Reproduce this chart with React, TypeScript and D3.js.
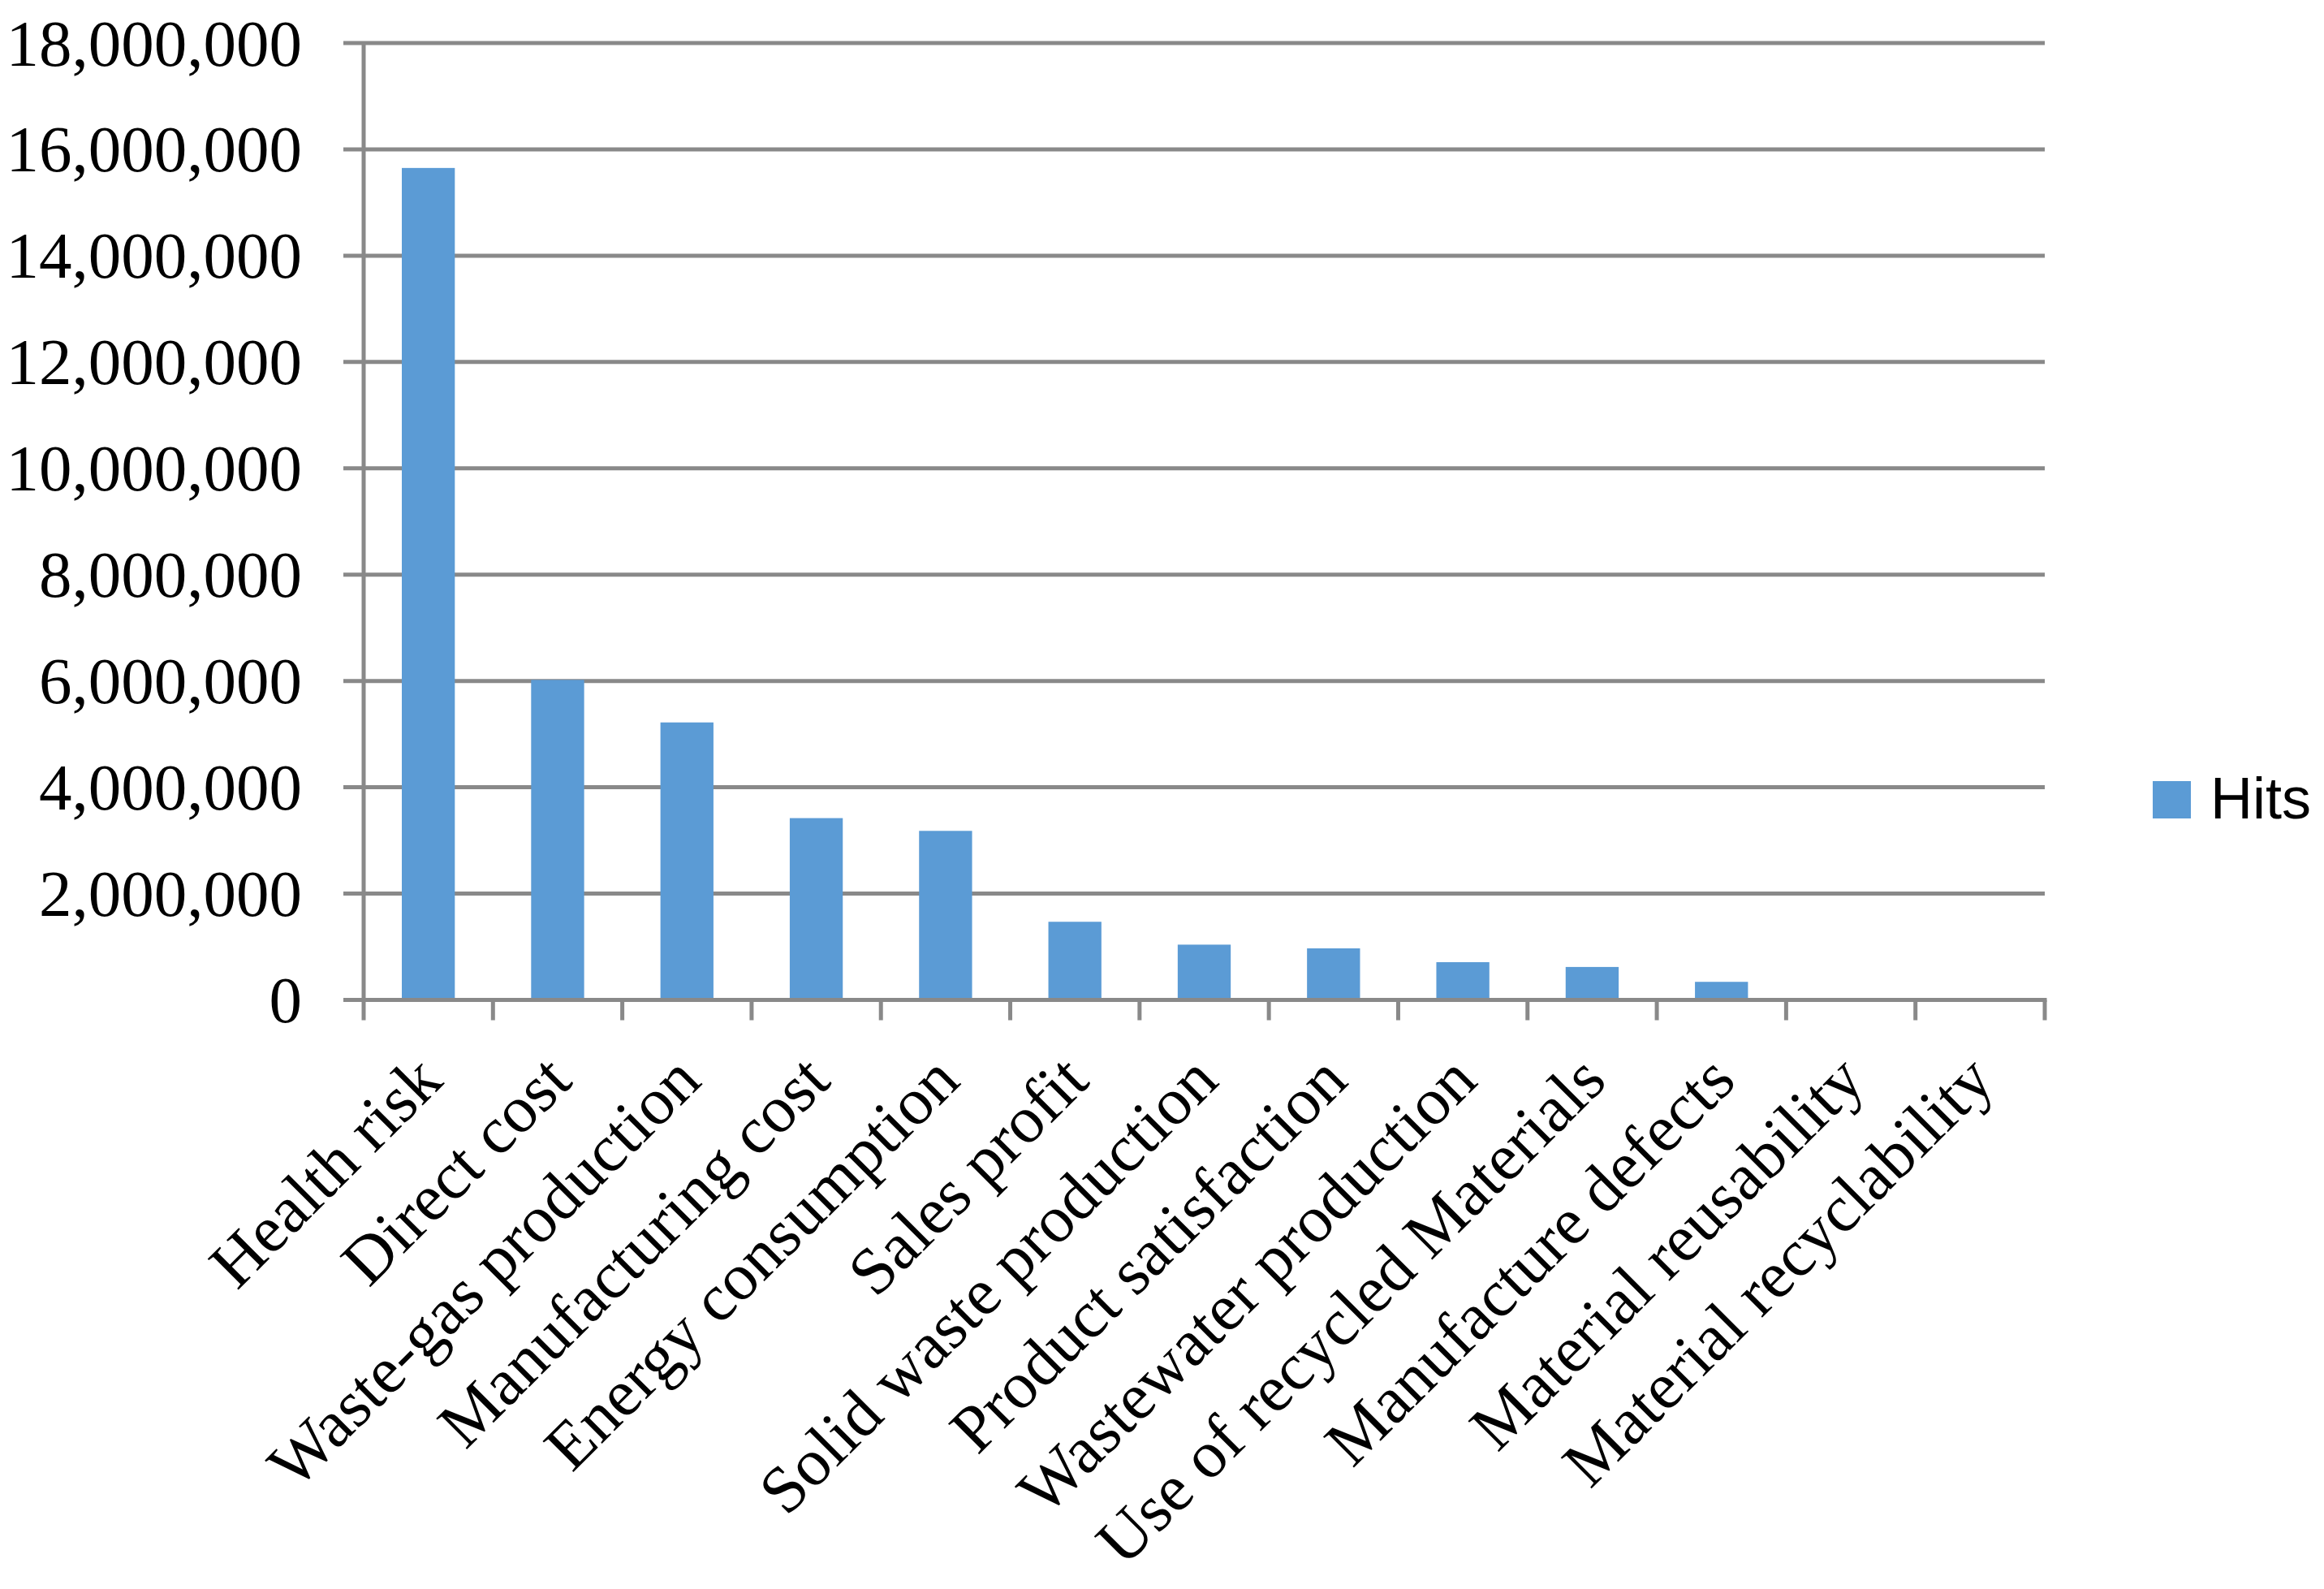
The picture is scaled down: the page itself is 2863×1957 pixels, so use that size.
import React, { useEffect, useRef } from 'react';
import * as d3 from 'd3';

const categories = [
  'Health risk',
  'Direct cost',
  'Waste-gas production',
  'Manufacturing cost',
  'Energy consumption',
  'Sales profit',
  'Solid waste production',
  'Product satisfaction',
  'Wastewater production',
  'Use of recycled Materials',
  'Manufacture defects',
  'Material reusability',
  'Material recyclability',
];

const hits = [
  15650000, 6020000, 5220000, 3420000, 3180000, 1470000, 1040000, 970000,
  710000, 620000, 340000, 0, 0,
];

const yTicks = [
  0, 2000000, 4000000, 6000000, 8000000, 10000000, 12000000, 14000000,
  16000000, 18000000,
];

const seriesName = 'Hits';

function App() {
  const svgRef = useRef<SVGSVGElement>(null);

  useEffect(() => {
    const width = 2863;
    const height = 1957;
    const plot = { left: 448, right: 2519, top: 53, bottom: 1231.5 };
    const tickLen = 25;
    const gridColor = '#898989';
    const barColor = '#5B9BD5';
    const lineW = 5;

    const svg = d3.select(svgRef.current);
    svg.selectAll('*').remove();
    svg.attr('width', width).attr('height', height);

    svg
      .append('rect')
      .attr('width', width)
      .attr('height', height)
      .attr('fill', '#ffffff');

    const x = d3
      .scaleBand<string>()
      .domain(categories)
      .range([plot.left, plot.right])
      .padding(0);

    const y = d3
      .scaleLinear()
      .domain([0, 18000000])
      .range([plot.bottom, plot.top]);

    const fmt = d3.format(',');

    // horizontal gridlines (with the little tick stub left of the axis)
    svg
      .append('g')
      .selectAll('line')
      .data(yTicks)
      .enter()
      .append('line')
      .attr('x1', plot.left - tickLen)
      .attr('x2', plot.right)
      .attr('y1', (d) => y(d))
      .attr('y2', (d) => y(d))
      .style('stroke', gridColor)
      .style('stroke-width', lineW);

    // y tick labels
    svg
      .append('g')
      .selectAll('text')
      .data(yTicks)
      .enter()
      .append('text')
      .attr('x', 372)
      .attr('y', (d) => y(d))
      .attr('dy', '0.34em')
      .attr('text-anchor', 'end')
      .style('font-family', '"Liberation Serif", "Times New Roman", serif')
      .style('font-size', '81px')
      .style('fill', '#000000')
      .text((d) => fmt(d));

    // y axis line
    svg
      .append('line')
      .attr('x1', plot.left)
      .attr('x2', plot.left)
      .attr('y1', plot.top)
      .attr('y2', plot.bottom)
      .style('stroke', gridColor)
      .style('stroke-width', lineW);

    // bars
    const barW = x.bandwidth() * 0.41;
    svg
      .append('g')
      .selectAll('rect')
      .data(categories.map((c, i) => ({ c, v: hits[i] })))
      .enter()
      .append('rect')
      .attr('x', (d) => (x(d.c) as number) + (x.bandwidth() - barW) / 2)
      .attr('y', (d) => y(d.v))
      .attr('width', barW)
      .attr('height', (d) => plot.bottom - y(d.v))
      .style('fill', barColor);

    // x axis baseline
    svg
      .append('line')
      .attr('x1', plot.left - tickLen)
      .attr('x2', plot.right + lineW / 2)
      .attr('y1', plot.bottom)
      .attr('y2', plot.bottom)
      .style('stroke', gridColor)
      .style('stroke-width', lineW);

    // x ticks at band boundaries
    const boundaries = categories.map((c) => x(c) as number).concat([plot.right]);
    svg
      .append('g')
      .selectAll('line')
      .data(boundaries)
      .enter()
      .append('line')
      .attr('x1', (d) => d)
      .attr('x2', (d) => d)
      .attr('y1', plot.bottom)
      .attr('y2', plot.bottom + tickLen)
      .style('stroke', gridColor)
      .style('stroke-width', lineW);

    // rotated category labels
    svg
      .append('g')
      .selectAll('text')
      .data(categories)
      .enter()
      .append('text')
      .attr('transform', (d) => {
        const cx = (x(d) as number) + x.bandwidth() / 2;
        return `translate(${cx}, 1314) rotate(-45)`;
      })
      .attr('dy', '0.35em')
      .attr('text-anchor', 'end')
      .style('font-family', '"Liberation Serif", "Times New Roman", serif')
      .style('font-size', '82px')
      .style('fill', '#000000')
      .text((d) => d);

    // legend
    const legend = svg.append('g').attr('transform', 'translate(2652, 962)');
    legend
      .append('rect')
      .attr('width', 47)
      .attr('height', 46)
      .style('fill', barColor);
    legend
      .append('text')
      .attr('x', 71)
      .attr('y', 46)
      .style('font-family', '"Liberation Sans", "Open Sans", sans-serif')
      .style('font-size', '72px')
      .style('fill', '#000000')
      .text(seriesName);
  }, []);

  return (
    <div style={{ position: 'absolute', left: 0, top: 0 }}>
      <svg ref={svgRef} style={{ display: 'block' }} />
    </div>
  );
}

export default App;
